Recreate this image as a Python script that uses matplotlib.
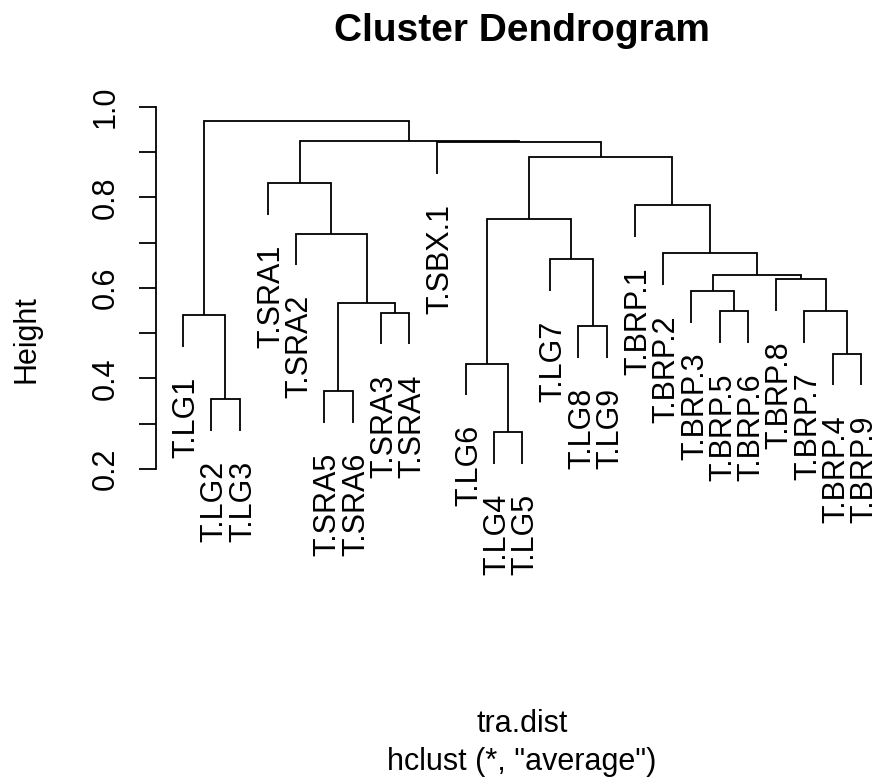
import matplotlib.pyplot as plt

plt.rcParams['font.family'] = ['Liberation Sans', 'DejaVu Sans']

# leaf order as drawn, left to right
labels = ['T.LG1', 'T.LG2', 'T.LG3', 'T.SRA1', 'T.SRA2', 'T.SRA5', 'T.SRA6',
          'T.SRA3', 'T.SRA4', 'T.SBX.1', 'T.LG6', 'T.LG4', 'T.LG5', 'T.LG7',
          'T.LG8', 'T.LG9', 'T.BRP.1', 'T.BRP.2', 'T.BRP.3', 'T.BRP.5',
          'T.BRP.6', 'T.BRP.8', 'T.BRP.7', 'T.BRP.4', 'T.BRP.9']

# merge steps, hclust style: 'mK' points at merge step K (1-based)
merge_a = ['T.LG4', 'T.LG2', 'T.SRA5', 'T.LG6', 'T.BRP.4', 'T.LG8', 'T.LG1',
           'T.SRA3', 'T.BRP.5', 'T.BRP.7', 'm3', 'T.BRP.3', 'T.BRP.8', 'm12',
           'T.LG7', 'T.BRP.2', 'T.SRA2', 'm4', 'T.BRP.1', 'T.SRA1', 'm18',
           'T.SBX.1', 'm20', 'm7']
merge_b = ['T.LG5', 'T.LG3', 'T.SRA6', 'm1', 'T.BRP.9', 'T.LG9', 'm2',
           'T.SRA4', 'T.BRP.6', 'm5', 'm8', 'm9', 'm10', 'm13', 'm6', 'm14',
           'm11', 'm15', 'm16', 'm17', 'm19', 'm21', 'm22', 'm23']
heights = [0.282, 0.354, 0.372, 0.433, 0.455, 0.516, 0.539, 0.545, 0.548,
           0.549, 0.567, 0.593, 0.619, 0.628, 0.663, 0.676, 0.720, 0.752,
           0.782, 0.831, 0.888, 0.921, 0.924, 0.968]

yticks = [0.2, 0.3, 0.4, 0.5, 0.6, 0.7, 0.8, 0.9, 1.0]
ytick_labels = ['0.2', '', '0.4', '', '0.6', '', '0.8', '', '1.0']

HANG = 0.07
W, H = 873, 778

fig = plt.figure(figsize=(W / 100, H / 100), dpi=100)
ax = fig.add_axes([156 / W, 1 - 478.1 / H, 732 / W, (478.1 - 106.7) / H])
ax.set_xlim(0.04, 25.96)
ax.set_ylim(0.18, 1.0)

xpos = {name: i + 1 for i, name in enumerate(labels)}
ypos = {}
leaf_bottom = {}

for k, (a, b, h) in enumerate(zip(merge_a, merge_b, heights)):
    ends = []
    for c in (a, b):
        if c in ypos:
            ends.append((xpos[c], ypos[c]))
        else:
            leaf_bottom[c] = h - HANG
            ends.append((xpos[c], h - HANG))
    (xa, ya), (xb, yb) = ends
    ax.plot([xa, xa, xb, xb], [ya, h, h, yb], color='black', lw=1.3,
            solid_capstyle='butt', solid_joinstyle='miter')
    name = 'm%d' % (k + 1)
    xpos[name] = (xa + xb) / 2
    ypos[name] = h

for name in labels:
    ax.annotate(name, xy=(xpos[name], leaf_bottom[name]), xytext=(0, -30),
                textcoords='offset pixels', rotation=90, rotation_mode='anchor',
                ha='right', va='center_baseline', fontsize=22,
                annotation_clip=False)

for s in ['top', 'right', 'bottom']:
    ax.spines[s].set_visible(False)
ax.spines['left'].set_bounds(0.2, 1.0)
ax.spines['left'].set_linewidth(1.3)
ax.set_xticks([])
ax.set_yticks(yticks)
ax.set_yticklabels(ytick_labels, rotation=90, va='center', fontsize=22)
ax.tick_params(axis='y', length=12.2, width=1.3, pad=13)

fig.text(522 / W, 1 - 41 / H, 'Cluster Dendrogram', ha='center',
         va='baseline', fontsize=28, fontweight='bold')
fig.text(23.5 / W, 1 - 339 / H, 'Height', rotation=90, rotation_mode='anchor',
         ha='center', va='center_baseline', fontsize=22)
fig.text(522 / W, 1 - 732 / H, 'tra.dist', ha='center', va='baseline',
         fontsize=22)
fig.text(522 / W, 1 - 770 / H, 'hclust (*, "average")', ha='center',
         va='baseline', fontsize=22)

fig.savefig('out.png', dpi=100)
